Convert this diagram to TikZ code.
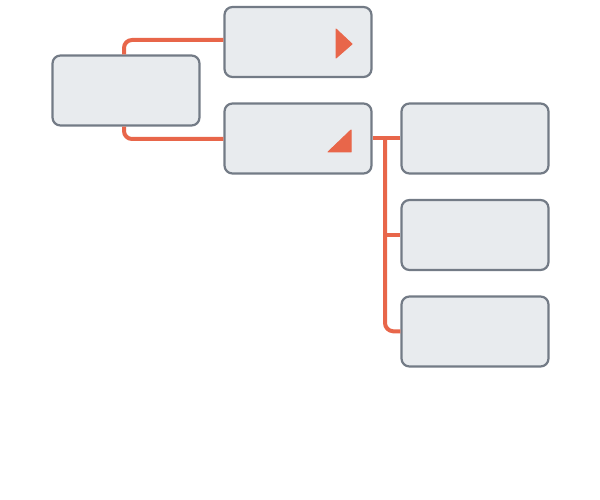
\documentclass[tikz,border=0pt]{standalone}
\definecolor{boxfill}{HTML}{E8EBEE}
\definecolor{boxline}{HTML}{737B86}
\definecolor{accent}{HTML}{E8664A}
\begin{document}
\begin{tikzpicture}[x=1pt,y=-1pt,
  box/.style={draw=boxline,fill=boxfill,line width=2.2pt,rounded corners=8pt,minimum width=147pt,minimum height=70pt,inner sep=0pt},
  link/.style={draw=accent,line width=4pt,rounded corners=8pt},
  tri/.style={fill=accent,draw=accent,line width=1pt,line join=round}]
\useasboundingbox (0,0) rectangle (600,500);
\node[box] (root) at (126,90.5) {};
\node[box] (c1) at (298,42) {};
\node[box] (c2) at (298,138.5) {};
\node[box] (g1) at (475,138.5) {};
\node[box] (g2) at (475,235) {};
\node[box] (g3) at (475,331.5) {};
\coordinate (t1) at (124,40);
\draw[link] (root.north -| t1) -- (124,40) -- (c1.west |- t1);
\draw[link] (root.south -| t1) -- (124,139) -- (c2.west |- 124,139);
\draw[link] (c2.east) -- (g1.west);
\draw[link] (385,139) -- (385,331) -- (g3.west);
\draw[link] (385,235) -- (g2.west);
\filldraw[tri] (336,29) -- (352,44) -- (336,58) -- cycle;
\filldraw[tri] (328,152) -- (351,152) -- (351,130) -- cycle;
\end{tikzpicture}
\end{document}
